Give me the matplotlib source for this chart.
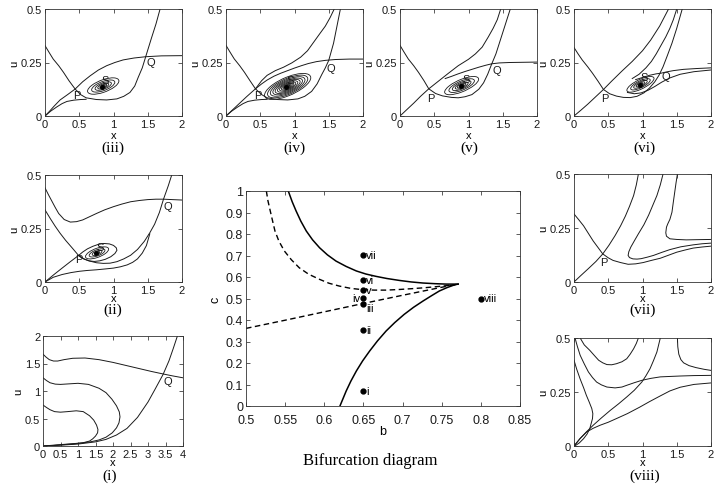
import matplotlib
matplotlib.use("Agg")
import matplotlib.pyplot as plt
from matplotlib.patches import Ellipse

plt.rcParams['font.family'] = ['Liberation Sans', 'DejaVu Sans']

# ---------------- data ----------------
xt_small = [0, 0.5, 1, 1.5, 2]
xt_small_lbl = ["0", "0.5", "1", "1.5", "2"]
ut_small = [0, 0.25, 0.5]
ut_small_lbl = ["0", "0.25", "0.5"]
xt_i = [0, 0.5, 1, 1.5, 2, 2.5, 3, 3.5, 4]
xt_i_lbl = ["0", "0.5", "1", "1.5", "2", "2.5", "3", "3.5", "4"]
ut_i = [0, 0.5, 1, 1.5, 2]
ut_i_lbl = ["0", "0.5", "1", "1.5", "2"]
bt = [0.5, 0.55, 0.6, 0.65, 0.7, 0.75, 0.8, 0.85]
bt_lbl = ["0.5", "0.55", "0.6", "0.65", "0.7", "0.75", "0.8", "0.85"]
ct = [0, 0.1, 0.2, 0.3, 0.4, 0.5, 0.6, 0.7, 0.8, 0.9, 1.0]
ct_lbl = ["0", "0.1", "0.2", "0.3", "0.4", "0.5", "0.6", "0.7", "0.8", "0.9", "1"]

# panel (iii)
curves_iii = [
    ([0, 0.06, 0.12, 0.2, 0.27, 0.35, 0.44, 0.52, 0.6, 0.75, 0.9, 1.05, 1.15, 1.24, 1.31, 1.36, 1.42, 1.47, 1.55, 1.62, 1.68],
     [0.329, 0.297, 0.266, 0.235, 0.204, 0.165, 0.126, 0.1, 0.085, 0.077, 0.075, 0.08, 0.092, 0.11, 0.14, 0.18, 0.225, 0.277, 0.36, 0.43, 0.5]),
    ([0, 0.06, 0.13, 0.22, 0.33, 0.44, 0.55, 0.66, 0.78, 0.9, 1.02, 1.14, 1.3, 1.47, 1.7, 2.0],
     [0, 0.02, 0.045, 0.075, 0.1, 0.126, 0.16, 0.188, 0.215, 0.235, 0.25, 0.262, 0.271, 0.277, 0.281, 0.282]),
    ([0, 0.08, 0.17, 0.25, 0.32, 0.42, 0.52, 0.6],
     [0, 0.022, 0.042, 0.058, 0.068, 0.074, 0.077, 0.078]),
]
spiral_iii = (0.85, 0.14, 0.23, 0.03, 6, [1, 0.74, 0.52, 0.35, 0.22, 0.12, 0.06])
pts_iii = {"P": (0.44, 0.126, 0.46, 0.096), "Q": (1.47, 0.277, 1.54, 0.25), "S": (0.83, 0.137, 0.88, 0.168)}

# panel (iv)
curves_iv = [
    ([0, 0.06, 0.12, 0.2, 0.27, 0.35, 0.43, 0.52, 0.6, 0.75, 0.9, 1.05, 1.15, 1.25, 1.33, 1.4, 1.45, 1.5, 1.57, 1.62, 1.67],
     [0.33, 0.298, 0.267, 0.235, 0.204, 0.165, 0.127, 0.1, 0.085, 0.077, 0.075, 0.08, 0.092, 0.115, 0.15, 0.195, 0.225, 0.26, 0.34, 0.42, 0.5]),
    ([0, 0.1, 0.2, 0.3, 0.43, 0.52, 0.6, 0.72, 0.84, 0.96, 1.09, 1.19, 1.28, 1.37, 1.45, 1.52, 1.58],
     [0, 0.03, 0.06, 0.09, 0.127, 0.165, 0.19, 0.212, 0.228, 0.248, 0.275, 0.305, 0.345, 0.385, 0.42, 0.46, 0.5]),
    ([0.43, 0.52, 0.6, 0.7, 0.8, 0.9, 1.0, 1.1, 1.2, 1.32, 1.45, 1.6, 1.8, 2.0],
     [0.127, 0.15, 0.168, 0.186, 0.2, 0.212, 0.224, 0.235, 0.245, 0.254, 0.26, 0.264, 0.266, 0.266]),
    ([0, 0.08, 0.17, 0.25, 0.32, 0.42, 0.52, 0.6],
     [0, 0.022, 0.042, 0.058, 0.068, 0.074, 0.077, 0.078]),
]
spiral_iv = (0.9, 0.138, 0.34, 0.045, 7, [1, 0.87, 0.75, 0.64, 0.54, 0.44, 0.35, 0.27, 0.2, 0.14, 0.09, 0.05])
pts_iv = {"P": (0.43, 0.127, 0.46, 0.096), "Q": (1.5, 0.26, 1.53, 0.226), "S": (0.87, 0.135, 0.93, 0.17)}

# panel (v)
curves_v = [
    ([0, 0.06, 0.12, 0.2, 0.27, 0.35, 0.42, 0.52, 0.62, 0.75, 0.85, 0.95, 1.05, 1.15, 1.22, 1.28, 1.34, 1.4, 1.47, 1.54, 1.61],
     [0.33, 0.298, 0.267, 0.235, 0.204, 0.165, 0.127, 0.105, 0.094, 0.087, 0.085, 0.09, 0.1, 0.125, 0.155, 0.195, 0.244, 0.29, 0.36, 0.43, 0.5]),
    ([0, 0.1, 0.2, 0.3, 0.42, 0.55, 0.7, 0.85, 1.0, 1.1, 1.2, 1.29, 1.36, 1.42, 1.47],
     [0, 0.03, 0.06, 0.092, 0.127, 0.16, 0.198, 0.235, 0.265, 0.29, 0.322, 0.37, 0.41, 0.45, 0.5]),
    ([0.66, 0.75, 0.85, 0.95, 1.05, 1.15, 1.25, 1.34, 1.45, 1.6, 1.8, 2.0],
     [0.175, 0.185, 0.197, 0.208, 0.218, 0.228, 0.237, 0.244, 0.248, 0.25, 0.251, 0.252]),
]
spiral_v = (0.9, 0.142, 0.25, 0.03, 7, [1, 0.75, 0.55, 0.38, 0.25, 0.14, 0.07])
pts_v = {"P": (0.42, 0.127, 0.45, 0.084), "Q": (1.34, 0.244, 1.42, 0.213), "S": (0.89, 0.14, 0.96, 0.175)}

# panel (vi)
curves_vi = [
    ([0, 0.06, 0.12, 0.2, 0.27, 0.35, 0.43, 0.52, 0.62, 0.72, 0.82, 0.92, 1.02, 1.1, 1.18, 1.24, 1.3, 1.36, 1.43, 1.5, 1.58],
     [0.32, 0.29, 0.262, 0.23, 0.2, 0.163, 0.124, 0.104, 0.093, 0.087, 0.086, 0.092, 0.108, 0.13, 0.16, 0.19, 0.23, 0.28, 0.34, 0.41, 0.5]),
    ([0, 0.1, 0.2, 0.3, 0.43, 0.55, 0.7, 0.85, 1.0, 1.12, 1.25, 1.38],
     [0, 0.027, 0.055, 0.085, 0.124, 0.163, 0.21, 0.255, 0.305, 0.355, 0.42, 0.5]),
    ([0.85, 0.95, 1.05, 1.13, 1.2, 1.27, 1.34, 1.4, 1.45, 1.5],
     [0.175, 0.195, 0.225, 0.255, 0.29, 0.33, 0.37, 0.41, 0.45, 0.5]),
    ([0.9, 1.0, 1.1, 1.2, 1.27, 1.35, 1.45, 1.6, 1.8, 2.0],
     [0.17, 0.18, 0.19, 0.197, 0.2, 0.206, 0.212, 0.218, 0.222, 0.225]),
    ([0.78, 0.88, 0.98, 1.08, 1.18, 1.28, 1.4, 1.55, 1.75, 2.0],
     [0.11, 0.104, 0.108, 0.12, 0.138, 0.158, 0.178, 0.195, 0.207, 0.215]),
]
spiral_vi = (0.97, 0.148, 0.2, 0.024, 8, [1, 0.72, 0.5, 0.32, 0.18, 0.09])
pts_vi = {"P": (0.43, 0.124, 0.45, 0.084), "Q": (1.27, 0.2, 1.34, 0.188), "S": (0.97, 0.146, 1.03, 0.18)}

# panel (ii)
curves_ii = [
    ([0, 0.08, 0.15, 0.22, 0.3, 0.4, 0.49, 0.57, 0.65, 0.75, 0.85, 0.95, 1.05, 1.15, 1.25, 1.35, 1.45, 1.53, 1.6, 1.67, 1.73, 1.8, 1.85],
     [0.337, 0.295, 0.26, 0.228, 0.195, 0.158, 0.124, 0.108, 0.098, 0.09, 0.087, 0.088, 0.095, 0.108, 0.125, 0.152, 0.19, 0.23, 0.27, 0.325, 0.387, 0.45, 0.5]),
    ([0, 0.05, 0.1, 0.15, 0.2, 0.28, 0.37, 0.46, 0.55, 0.65, 0.75, 0.87, 1.0, 1.12, 1.25, 1.38, 1.5, 1.62, 1.73, 1.86, 2.0],
     [0.44, 0.408, 0.378, 0.348, 0.32, 0.292, 0.28, 0.282, 0.29, 0.305, 0.32, 0.337, 0.352, 0.364, 0.375, 0.381, 0.385, 0.387, 0.387, 0.385, 0.383]),
    ([0, 0.12, 0.25, 0.38, 0.5, 0.62, 0.75, 0.88, 1.0, 1.1, 1.2, 1.28, 1.35, 1.42, 1.48, 1.53],
     [0, 0.022, 0.035, 0.044, 0.05, 0.054, 0.057, 0.061, 0.065, 0.071, 0.08, 0.092, 0.108, 0.135, 0.17, 0.225]),
    ([0, 0.12, 0.25, 0.37, 0.49], [0, 0.032, 0.065, 0.095, 0.124]),
    ([0.49, 0.55, 0.62, 0.7, 0.78, 0.86, 0.94, 1.0, 1.04, 1.05, 1.02, 0.96, 0.88, 0.8, 0.72, 0.64, 0.57, 0.52, 0.49],
     [0.124, 0.14, 0.155, 0.167, 0.176, 0.18, 0.178, 0.171, 0.16, 0.148, 0.133, 0.118, 0.106, 0.099, 0.096, 0.099, 0.107, 0.116, 0.124]),
]
spiral_ii = (0.76, 0.136, 0.17, 0.022, 6, [1, 0.68, 0.42, 0.22, 0.1])
pts_ii = {"P": (0.49, 0.124, 0.5, 0.106), "Q": (1.73, 0.387, 1.79, 0.356), "S": (0.75, 0.135, 0.81, 0.163)}

# panel (vii)
curves_vii = [
    ([0, 0.07, 0.14, 0.21, 0.28, 0.35, 0.42, 0.5, 0.57, 0.68, 0.79, 0.9, 1.01, 1.13, 1.26, 1.38, 1.5, 1.62, 1.74, 1.87, 2.0],
     [0.315, 0.288, 0.26, 0.225, 0.19, 0.16, 0.13, 0.112, 0.1, 0.09, 0.082, 0.084, 0.09, 0.1, 0.11, 0.124, 0.138, 0.148, 0.157, 0.162, 0.166]),
    ([0, 0.1, 0.21, 0.32, 0.42, 0.51, 0.6, 0.68, 0.75, 0.81, 0.87, 0.91, 0.94],
     [0, 0.03, 0.062, 0.095, 0.13, 0.17, 0.215, 0.26, 0.305, 0.35, 0.4, 0.45, 0.5]),
    ([1.3, 1.26, 1.21, 1.15, 1.09, 1.02, 0.94, 0.88, 0.83, 0.8, 0.79, 0.81, 0.86, 0.92, 0.98, 1.07, 1.16, 1.28, 1.4, 1.56, 1.74, 1.87, 2.0],
     [0.5, 0.45, 0.4, 0.355, 0.31, 0.265, 0.223, 0.19, 0.162, 0.14, 0.123, 0.113, 0.107, 0.106, 0.108, 0.115, 0.123, 0.137, 0.15, 0.163, 0.172, 0.177, 0.18]),
    ([1.51, 1.49, 1.47, 1.45, 1.43, 1.4, 1.37, 1.35, 1.34, 1.35, 1.4, 1.5, 1.64, 1.8, 2.0],
     [0.5, 0.46, 0.415, 0.37, 0.323, 0.29, 0.27, 0.254, 0.228, 0.212, 0.2, 0.197, 0.195, 0.196, 0.197]),
]
pts_vii = {"P": (0.42, 0.13, 0.43, 0.092)}

# panel (viii)
curves_viii = [
    ([0, 0.04, 0.09, 0.14, 0.18, 0.22, 0.26, 0.275, 0.27, 0.23, 0.19, 0.14, 0.08, 0.03, 0],
     [0.397, 0.355, 0.31, 0.27, 0.235, 0.205, 0.173, 0.15, 0.127, 0.08, 0.055, 0.034, 0.015, 0.004, 0]),
    ([0.09, 0.15, 0.23, 0.3, 0.36, 0.42, 0.48, 0.55, 0.62, 0.7, 0.77, 0.82, 0.87, 0.91, 0.94],
     [0.5, 0.468, 0.443, 0.418, 0.397, 0.385, 0.377, 0.376, 0.381, 0.39, 0.404, 0.425, 0.45, 0.475, 0.5]),
    ([0.015, 0.05, 0.09, 0.15, 0.21, 0.27, 0.33, 0.4, 0.48, 0.6, 0.7, 0.77, 0.88, 0.99, 1.12, 1.26, 1.4, 1.55, 1.75, 2.0],
     [0.5, 0.46, 0.42, 0.38, 0.343, 0.317, 0.296, 0.283, 0.273, 0.269, 0.273, 0.281, 0.293, 0.304, 0.313, 0.32, 0.322, 0.324, 0.326, 0.327]),
    ([0, 0.09, 0.18, 0.28, 0.4, 0.53, 0.65, 0.77, 0.88, 0.99, 1.05, 1.11, 1.16, 1.21, 1.26],
     [0, 0.035, 0.065, 0.096, 0.13, 0.165, 0.195, 0.227, 0.258, 0.296, 0.325, 0.358, 0.395, 0.435, 0.5]),
    ([0, 0.09, 0.185, 0.28, 0.38, 0.5, 0.62, 0.78, 0.96, 1.1, 1.26, 1.4, 1.55, 1.75, 2.0],
     [0, 0.035, 0.065, 0.082, 0.096, 0.11, 0.127, 0.15, 0.18, 0.205, 0.232, 0.255, 0.272, 0.285, 0.292]),
    ([1.51, 1.515, 1.53, 1.56, 1.6, 1.68, 1.78, 1.9, 2.0],
     [0.5, 0.46, 0.425, 0.4, 0.385, 0.372, 0.363, 0.355, 0.35]),
]

# panel (i)
curves_i = [
    ([0, 0.5, 1.0, 1.5, 1.8, 2.1, 2.4, 2.7, 3.0, 3.2, 3.43, 3.6, 3.72, 3.84],
     [0, 0.015, 0.035, 0.075, 0.12, 0.2, 0.32, 0.52, 0.8, 1.03, 1.3, 1.55, 1.77, 2.0]),
    ([0, 0.08, 0.18, 0.3, 0.42, 0.6, 0.85, 1.2, 1.6, 2.0, 2.4, 2.8, 3.1, 3.43, 3.7, 4.0],
     [1.67, 1.62, 1.57, 1.545, 1.545, 1.57, 1.595, 1.6, 1.57, 1.52, 1.46, 1.4, 1.355, 1.31, 1.275, 1.24]),
    ([0, 0.1, 0.2, 0.35, 0.5, 0.75, 1.0, 1.3, 1.6, 1.8, 1.97, 2.1, 2.18, 2.2, 2.17, 2.1, 1.98, 1.8, 1.6, 1.35, 1.1, 0.8, 0.5, 0.2, 0],
     [1.24, 1.19, 1.15, 1.125, 1.12, 1.13, 1.14, 1.12, 1.05, 0.97, 0.85, 0.73, 0.62, 0.53, 0.42, 0.33, 0.24, 0.16, 0.11, 0.075, 0.055, 0.04, 0.025, 0.01, 0]),
    ([0, 0.1, 0.2, 0.33, 0.5, 0.7, 0.95, 1.15, 1.33, 1.45, 1.53, 1.57, 1.56, 1.5, 1.42, 1.33, 1.15, 0.9, 0.6, 0.3, 0],
     [0.745, 0.7, 0.66, 0.625, 0.615, 0.625, 0.64, 0.625, 0.55, 0.47, 0.38, 0.3, 0.24, 0.18, 0.13, 0.09, 0.06, 0.04, 0.025, 0.01, 0]),
]
pts_i = {"Q": (3.43, 1.3, 3.57, 1.18)}

# bifurcation diagram
solid_upper_b = [0.554, 0.559, 0.564, 0.57, 0.577, 0.585, 0.594, 0.604, 0.615, 0.628, 0.641, 0.653, 0.666, 0.68, 0.696, 0.711, 0.726, 0.741, 0.756, 0.771]
solid_upper_c = [1.0, 0.95, 0.907, 0.86, 0.814, 0.773, 0.736, 0.703, 0.674, 0.649, 0.628, 0.614, 0.603, 0.593, 0.584, 0.577, 0.572, 0.569, 0.567, 0.567]
solid_lower_b = [0.620, 0.624, 0.628, 0.634, 0.641, 0.649, 0.658, 0.668, 0.679, 0.69, 0.702, 0.714, 0.726, 0.737, 0.747, 0.757, 0.766, 0.771]
solid_lower_c = [0.0, 0.035, 0.07, 0.116, 0.163, 0.21, 0.256, 0.303, 0.349, 0.388, 0.426, 0.459, 0.488, 0.513, 0.535, 0.551, 0.563, 0.567]
dash_upper_b = [0.526, 0.528, 0.531, 0.534, 0.537, 0.542, 0.549, 0.558, 0.568, 0.58, 0.594, 0.606, 0.619, 0.634, 0.649, 0.664, 0.679, 0.696, 0.713, 0.728, 0.743, 0.757, 0.768]
dash_upper_c = [1.0, 0.955, 0.907, 0.86, 0.814, 0.767, 0.721, 0.68, 0.643, 0.613, 0.589, 0.571, 0.558, 0.547, 0.541, 0.539, 0.539, 0.542, 0.546, 0.55, 0.555, 0.56, 0.565]
dash_lower_b = [0.5, 0.55, 0.6, 0.65, 0.7, 0.751, 0.768]
dash_lower_c = [0.361, 0.399, 0.438, 0.477, 0.515, 0.553, 0.565]
case_names = ["i", "ii", "iii", "iv", "v", "vi", "vii", "viii"]
case_b = [0.65, 0.65, 0.65, 0.65, 0.65, 0.65, 0.65, 0.80]
case_c = [0.07, 0.352, 0.476, 0.504, 0.54, 0.584, 0.702, 0.50]

# ---------------- drawing ----------------
W, H = 715, 489
fig = plt.figure(figsize=(W / 100, H / 100), dpi=100)
LC = '#1a1a1a'


def add_ax(l, t, r, b):
    return fig.add_axes([l / W, 1 - b / H, (r - l) / W, (b - t) / H])


def style(ax, xt, xl, yt, yl, xlim, ylim, fs=8, xpad=2):
    ax.set_xlim(*xlim)
    ax.set_ylim(*ylim)
    ax.set_xticks(xt)
    ax.set_xticklabels(xl)
    ax.set_yticks(yt)
    ax.set_yticklabels(yl)
    ax.tick_params(direction='in', top=True, right=True, length=3, width=0.5,
                   labelsize=fs, pad=2, colors=LC)
    ax.tick_params(axis='x', pad=xpad)
    for s in ax.spines.values():
        s.set_linewidth(0.6)
        s.set_color('#333333')


def phase(box, curves, spiral, pts, xticks, xtl, yticks, ytl, xlim, ylim, lab, labpos, xlpad):
    ax = add_ax(*box)
    for xs, us in curves:
        ax.plot(xs, us, color=LC, lw=0.7, solid_joinstyle='round')
    if spiral is not None:
        cx, cy, hw, hh, ang, rings = spiral
        for k in rings:
            ax.add_patch(Ellipse((cx, cy), 2 * hw * k, 2 * hh * k, angle=ang,
                                 fill=False, ec=LC, lw=0.6))
    for name, (px, py, tx, ty) in pts.items():
        if name == "S":
            ax.plot([px], [py], 'o', color='k', ms=2.5)
        ax.text(tx, ty, name, fontsize=8, ha='center', va='center', color=LC)
    style(ax, xticks, xtl, yticks, ytl, xlim, ylim)
    ax.set_xlabel('x', fontsize=8, labelpad=xlpad)
    ax.set_ylabel('u', fontsize=8, labelpad=1)
    fig.text(labpos[0] / W, 1 - labpos[1] / H, lab, fontsize=11,
             family='Liberation Serif', ha='center', va='center')
    return ax


sm = (xt_small, xt_small_lbl, ut_small, ut_small_lbl, (0, 2), (0, 0.5))
phase((45, 10, 182, 117), curves_iii, spiral_iii, pts_iii, *sm, "(iii)", (113, 148), 1)
phase((226, 10, 363, 117), curves_iv, spiral_iv, pts_iv, *sm, "(iv)", (294, 148), 1)
phase((400, 10, 537, 117), curves_v, spiral_v, pts_v, *sm, "(v)", (469, 148), 1)
phase((574, 10, 711, 117), curves_vi, spiral_vi, pts_vi, *sm, "(vi)", (644, 148), 1)
phase((45, 176, 182, 283), curves_ii, spiral_ii, pts_ii, *sm, "(ii)", (113, 310), -1)
phase((574, 175, 711, 283), curves_vii, None, pts_vii, *sm, "(vii)", (643, 310), -1)
phase((43, 337, 183, 447), curves_i, None, pts_i, xt_i, xt_i_lbl, ut_i, ut_i_lbl,
      (0, 4), (0, 2), "(i)", (110, 476), -1)
phase((574, 339, 711, 447), curves_viii, None, {}, *sm, "(viii)", (645, 476), -1)

# center
ax = add_ax(246, 192, 520, 407)
ax.plot(solid_upper_b, solid_upper_c, color='k', lw=1.1)
ax.plot(solid_lower_b, solid_lower_c, color='k', lw=1.1)
ax.plot(dash_upper_b, dash_upper_c, color='k', lw=1.0, linestyle=(0, (4, 2.5)))
ax.plot(dash_lower_b, dash_lower_c, color='k', lw=1.0, linestyle=(0, (4, 2.5)))
ax.plot(case_b, case_c, 'o', color='k', ms=3.5, linestyle='none')
for name, b, c in zip(case_names, case_b, case_c):
    if name == 'iv':
        ax.text(b - 0.0035, c, name, fontsize=8, ha='right', va='center')
    elif name == 'iii':
        ax.text(b + 0.0035, c - 0.022, name, fontsize=8, ha='left', va='center')
    else:
        ax.text(b + 0.0035, c, name, fontsize=8, ha='left', va='center')
style(ax, bt, bt_lbl, ct, ct_lbl, (0.5, 0.85), (0, 1), fs=9, xpad=6)
ax.set_xlabel('b', fontsize=9, labelpad=-1)
ax.set_ylabel('c', fontsize=9, labelpad=3)
fig.text(370 / W, 1 - 461 / H, "Bifurcation diagram", fontsize=12,
         family='Liberation Serif', ha='center', va='center')

fig.savefig('out.png', dpi=100)
